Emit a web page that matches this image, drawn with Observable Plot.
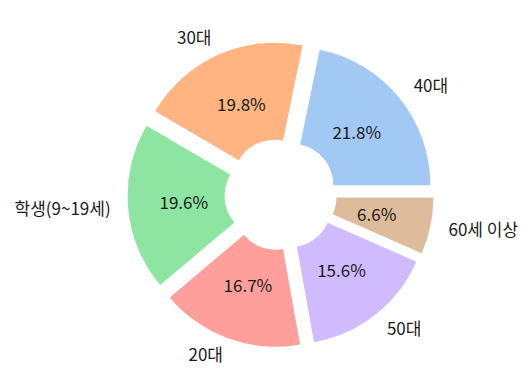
<!DOCTYPE html>
<html>
<head>
<meta charset="utf-8">
<script src="https://cdn.jsdelivr.net/npm/d3@7"></script>
<script src="https://cdn.jsdelivr.net/npm/@observablehq/plot@0.6"></script>
<style>
  html, body { margin: 0; padding: 0; background: #fff; }
  #chart svg { display: block; }
</style>
</head>
<body>
<div id="chart"></div>
<script>
// Data
const labels = ["40대", "30대", "학생(9~19세)", "20대", "50대", "60세 이상"];
const shares = [21.8, 19.8, 19.6, 16.7, 15.6, 6.6];
const colors = ["#a1c9f4", "#ffb482", "#8de5a1", "#ff9f9b", "#d0bbff", "#debb9b"];

// Pie settings (radius = 1 unit)
const explode = 0.105;
const innerRadius = 0.3;
const pctDistance = 0.6;
const labelDistance = 1.13;

const W = 527, H = 389;
const cxPx = 280.6, cyPx = 194.5, Rpx = 138.5;

const total = d3.sum(shares);
let acc = 0;
const wedges = shares.map((v, i) => {
  const t1 = acc / total * 2 * Math.PI;
  acc += v;
  const t2 = acc / total * 2 * Math.PI;
  const m = (t1 + t2) / 2;
  const ox = explode * Math.cos(m), oy = explode * Math.sin(m);
  return {
    label: labels[i], share: v, color: colors[i], t1, t2, m, ox, oy,
    pct: (v / total * 100).toFixed(1) + "%",
    px: ox + pctDistance * Math.cos(m), py: oy + pctDistance * Math.sin(m),
    lx: ox + labelDistance * Math.cos(m), ly: oy + labelDistance * Math.sin(m),
    anchor: Math.cos(m) >= 0 ? "start" : "end"
  };
});

function pieSlices(index, scales) {
  const {x, y} = scales;
  const r = x(1) - x(0);
  const g = d3.create("svg:g");
  const arc = d3.arc().innerRadius(innerRadius * r).outerRadius(r);
  for (const w of wedges) {
    g.append("path")
      .attr("transform", `translate(${x(w.ox)},${y(w.oy)})`)
      .attr("d", arc({startAngle: Math.PI / 2 - w.t2, endAngle: Math.PI / 2 - w.t1}))
      .attr("fill", w.color);
  }
  return g.node();
}

const chart = Plot.plot({
  width: W,
  height: H,
  margin: 0,
  x: {domain: [-cxPx / Rpx, (W - cxPx) / Rpx], axis: null},
  y: {domain: [-(H - cyPx) / Rpx, cyPx / Rpx], axis: null},
  style: {fontFamily: "'Noto Sans CJK KR', 'Noto Sans', sans-serif", background: "#fff"},
  marks: [
    pieSlices,
    Plot.text(wedges, {x: "px", y: "py", text: "pct", fontSize: 17, fill: "#1a1a1a", textAnchor: "middle"}),
    Plot.text(wedges.filter(d => d.anchor === "start"), {x: "lx", y: "ly", text: "label", fontSize: 17, fill: "#1a1a1a", textAnchor: "start"}),
    Plot.text(wedges.filter(d => d.anchor === "end"), {x: "lx", y: "ly", text: "label", fontSize: 17, fill: "#1a1a1a", textAnchor: "end"})
  ]
});
document.getElementById("chart").appendChild(chart);
</script>
</body>
</html>
